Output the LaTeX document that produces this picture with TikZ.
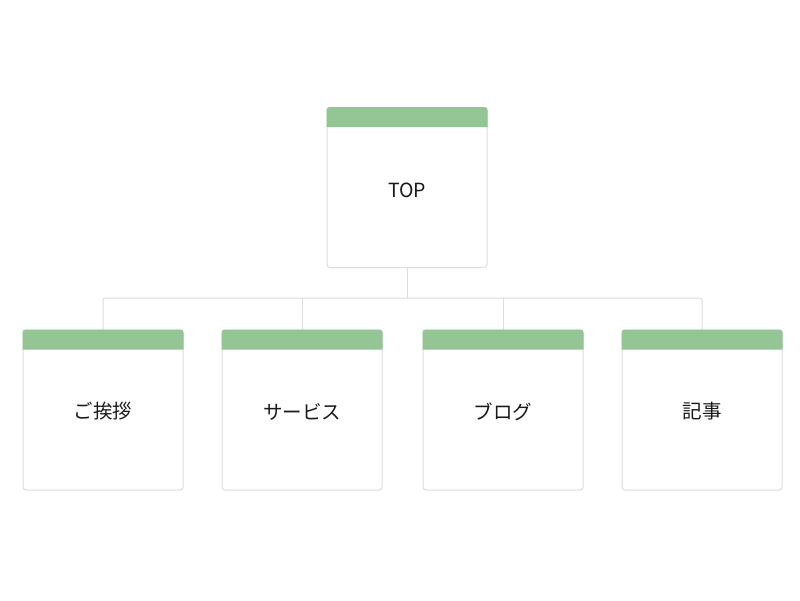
\documentclass[tikz,border=0pt]{standalone}
\usepackage{fontspec}
\setmainfont{Noto Sans CJK JP}
\begin{document}
\begin{tikzpicture}[x=1pt,y=-1pt,
  page/.style={draw=linegray,line width=1pt,rounded corners=3pt,minimum width=160pt,minimum height=160pt,inner sep=0pt,fill=white},
  lbl/.style={font=\fontsize{19.5}{23}\selectfont,text=black!90},
  conn/.style={draw=linegray,line width=1pt}]
\definecolor{linegray}{HTML}{DDDDDD}
\definecolor{hdr}{HTML}{93C595}
\useasboundingbox (0,0) rectangle (800,600);
\fill[white] (0,0) rectangle (800,600);
% connectors
\coordinate (j) at (407,298);
\node[page] (top) at (407,187.5) {};
\node[page] (b1) at (103,410) {};
\node[page] (b2) at (302,410) {};
\node[page] (b3) at (503,410) {};
\node[page] (b4) at (702,410) {};
\draw[conn] (top.south) -- (j);
\draw[conn,rounded corners=2pt] (b1.north) |- (j) -| (b4.north);
\draw[conn] (b2.north) -- (b2.north |- j);
\draw[conn] (b3.north) -- (b3.north |- j);
\foreach \b in {top,b1,b2,b3,b4}{
  \fill[hdr] ([yshift=-20pt]\b.north west) [rounded corners=3pt] -- (\b.north west) -- (\b.north east) [sharp corners] -- ([yshift=-20pt]\b.north east) -- cycle;
}
\node[lbl] (ttop) at ([yshift=-2.5pt]top.center) {TOP};
\node[lbl] (t1) at ([yshift=-1.5pt]b1.center) {ご挨拶};
\node[lbl] (t2) at ([yshift=-1.5pt]b2.center) {サービス};
\node[lbl] (t3) at ([yshift=-1.5pt]b3.center) {ブログ};
\node[lbl] (t4) at ([yshift=-1.5pt]b4.center) {記事};
\end{tikzpicture}
\end{document}
